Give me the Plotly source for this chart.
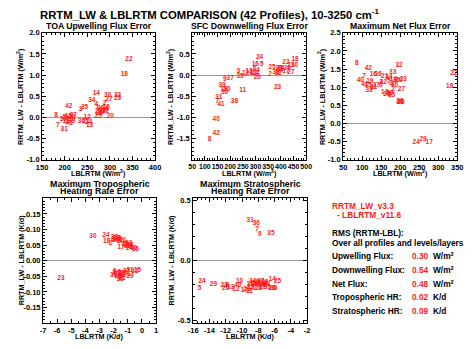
import plotly.graph_objects as go

W, H = 474, 349
FONT = "Liberation Sans, Arial, sans-serif"
RED = "#ff1a1a"

# ---------------- data ----------------
toa_lab = [22, 18, 14, 30, 33, 23, 27, 34, 42, 35, 3, 8, 20, 25, 37, 40, 12, 36, 24, 13, 41, 7, 31,
           4, 2, 26, 1, 16, 28, 19, 32, 29, 6, 5, 9, 10, 11, 38, 39, 15, 17, 21]
toa_x = [342, 332, 270, 295, 317, 317, 298, 260, 209, 244, 235, 181, 301, 274, 219, 217, 250, 237, 253, 255, 210, 185, 199,
         270, 288, 280, 272, 292, 275, 283, 290, 277, 294, 200, 205, 212, 203, 197, 215, 208, 282, 247]
toa_y = [1.36, 1.01, 0.56, 0.53, 0.51, 0.44, 0.43, 0.40, 0.26, 0.24, 0.18, 0.06, 0.02, 0.02, 0.05, 0.0, 0.0, -0.10, -0.12, -0.19, -0.15, -0.18, -0.28,
         0.31, 0.33, 0.21, 0.24, 0.25, 0.15, 0.17, 0.14, 0.09, 0.20, 0.0, -0.02, -0.05, -0.08, -0.04, -0.08, 0.02, 0.12, -0.08]

sfc_lab = [24, 18, 16, 5, 22, 30, 25, 28, 3, 6, 4, 13, 12, 1, 14, 35, 20, 2, 32, 27, 17, 9, 37, 23, 39, 19, 10,
           36, 11, 31, 7, 41, 38, 40, 42, 8, 26, 29, 21, 15, 34, 33]
sfc_x = [316, 456, 299, 325, 420, 454, 365, 393, 232, 297, 310, 275, 261, 285, 300, 239, 307, 357, 389, 440, 420, 179, 200, 387, 168, 175, 188,
         178, 249, 155, 149, 164, 217, 145, 145, 119, 400, 425, 440, 290, 395, 380]
sfc_y = [0.41, 0.36, 0.26, 0.26, 0.30, 0.24, 0.19, 0.16, 0.09, 0.15, 0.10, 0.08, 0.03, 0.05, 0.03, -0.03, -0.06, 0.02, 0.04, 0.07, 0.08, -0.09, -0.07, -0.28, -0.24, -0.33, -0.33,
         -0.40, -0.36, -0.53, -0.61, -0.70, -0.61, -1.04, -1.38, -1.51, 0.15, 0.17, 0.22, 0.06, 0.10, 0.06]

net_lab = [8, 42, 32, 33, 22, 16, 36, 21, 34, 14, 28, 38, 23, 7, 40, 19, 41, 15, 37, 6, 12, 4, 18, 2, 27, 31, 9,
           13, 1, 35, 24, 29, 17, 10, 20, 5, 3, 11, 25, 30, 39, 26]
net_x = [86, 116, 197, 180, 341, 129, 142, 159, 170, 182, 200, 201, 208, 105, 95, 120, 107, 115, 137, 149, 155, 177, 330, 182, 203, 118, 125,
         159, 168, 177, 242, 260, 276, 190, 196, 170, 150, 130, 165, 185, 172, 199]
net_y = [1.65, 1.53, 1.59, 1.40, 1.39, 1.35, 1.35, 1.30, 1.27, 1.22, 0.59, 0.58, 1.22, 1.29, 1.18, 1.15, 1.07, 1.05, 1.05, 1.05, 1.12, 1.07, 1.03, 0.95, 0.94, 0.91, 0.98,
         0.85, 0.84, 0.77, -0.52, -0.43, -0.52, 1.20, 1.20, 1.15, 1.12, 1.00, 0.80, 1.05, 0.83, 0.60]

trop_lab = [24, 18, 21, 2, 28, 19, 22, 26, 3, 8, 20, 17, 36, 34, 33, 16, 12, 5, 40, 13, 14, 30,
            23, 31, 15, 6, 9, 41, 42, 11, 1, 29, 4, 7, 10, 25, 27, 32, 35, 37, 38, 39]
trop_x = [-2.55, -2.5, -1.34, -2.2, -1.95, -1.8, -1.7, -1.85, -1.6, -2.05, -1.5, -1.48, -0.47, -1.1, -0.95, -0.85, -1.0, -0.75, -0.6, -1.2, -0.9, -3.47,
          -5.73, -0.86, -0.31, -1.92, -1.6, -1.81, -1.35, -1.4, -0.93, -0.84, -1.6, -1.95, -1.7, -1.25, -1.1, -0.5, -1.55, -1.75, -1.45, -2.0]
trop_y = [0.081, 0.0625, 0.066, 0.056, 0.075, 0.072, 0.068, 0.064, 0.07, 0.068, 0.062, 0.044, 0.035, 0.05, 0.055, 0.048, 0.045, 0.042, 0.04, 0.052, 0.038, 0.079,
          -0.058, -0.030, -0.030, -0.035, -0.037, -0.045, -0.048, -0.056, -0.045, -0.049, -0.056, -0.042, -0.05, -0.04, -0.035, -0.035, -0.06, -0.04, -0.042, -0.048]

strat_lab = [31, 36, 7, 9, 35, 24, 5, 29, 12, 10, 14, 25, 20, 23, 8, 13, 40, 17, 11, 21,
             1, 2, 3, 4, 6, 15, 16, 18, 19, 22, 26, 27, 28, 30, 32, 33, 34, 37, 38, 39, 41, 42]
strat_x = [-9.0, -8.24, -8.16, -7.8, -6.45, -14.9, -15.2, -13.5, -10.75, -10.3, -6.3, -5.65, -12.0, -12.2, -11.8, -11.4, -10.5, -9.7, -9.1, -9.4,
           -8.8, -8.5, -8.2, -8.0, -7.8, -7.6, -7.3, -7.0, -8.9, -8.6, -6.3, -7.5, -7.9, -8.3, -7.2, -6.9, -8.7, -7.7, -6.1, -9.0, -8.1, -7.4]
strat_y = [0.333, 0.31, 0.26, 0.22, 0.23, -0.17, -0.23, -0.20, -0.236, -0.17, -0.153, -0.175, -0.235, -0.205, -0.21, -0.22, -0.21, -0.25, -0.255, -0.24,
           -0.19, -0.20, -0.18, -0.21, -0.18, -0.20, -0.19, -0.20, -0.22, -0.23, -0.23, -0.22, -0.23, -0.19, -0.18, -0.22, -0.17, -0.17, -0.23, -0.20, -0.20, -0.21]

rms_names = ["Upwelling Flux:", "Downwelling Flux:", "Net Flux:", "Tropospheric HR:", "Stratospheric HR:"]
rms_vals = ["0.30", "0.54", "0.48", "0.02", "0.09"]
rms_units = ["W/m<sup>2</sup>", "W/m<sup>2</sup>", "W/m<sup>2</sup>", "K/d", "K/d"]

# ---------------- layout helpers ----------------
def fx(px):
    return px / W

def fy(py):
    return (H - py) / H

panels = [
    dict(x=(37, 153), y=(29.5, 160), xr=[150, 400], yr=[-1, 2], xt=list(range(150, 401, 50)),
         yt=[-1.0, -0.5, 0.0, 0.5, 1.0, 1.5, 2.0], yf="{:.1f}", xm=10, ym=0.1, xfs=7.5,
         data=(toa_x, toa_y, toa_lab), title=["TOA Upwelling Flux Error"], xt_title="LBLRTM (W/m<sup>2</sup>)",
         yt_title="RRTM_LW - LBLRTM (W/m<sup>2</sup>)"),
    dict(x=(191, 308), y=(29.5, 160), xr=[50, 500], yr=[-2, 1], xt=list(range(50, 501, 50)),
         yt=[-1.5, -1.0, -0.5, 0.0, 0.5], yf="{:.1f}", xm=10, ym=0.1, xfs=7.0,
         data=(sfc_x, sfc_y, sfc_lab), title=["SFC Downwelling Flux Error"], xt_title="LBLRTM (W/m<sup>2</sup>)",
         yt_title="RRTM_LW - LBLRTM (W/m<sup>2</sup>)"),
    dict(x=(346, 463), y=(29.5, 160), xr=[50, 350], yr=[-1, 2.5], xt=list(range(50, 351, 50)),
         yt=[-1.0, -0.5, 0.0, 0.5, 1.0, 1.5, 2.0, 2.5], yf="{:.1f}", xm=10, ym=0.1, xfs=7.5,
         data=(net_x, net_y, net_lab), title=["Maximum Net Flux Error"], xt_title="LBLRTM (W/m<sup>2</sup>)",
         yt_title="RRTM_LW - LBLRTM (W/m<sup>2</sup>)"),
    dict(x=(38, 154), y=(199.5, 327.5), xr=[-7, 1], yr=[-0.2, 0.2], xt=list(range(-7, 2)),
         yt=[-0.15, -0.10, -0.05, 0.0, 0.05, 0.10, 0.15], yf="{:.2f}", xm=0.5, ym=0.01, xfs=7.5,
         data=(trop_x, trop_y, trop_lab), title=["Maximum Tropospheric", "Heating Rate Error"],
         xt_title="LBLRTM (K/d)", yt_title="RRTM_LW - LBLRTM (K/d)"),
    dict(x=(192, 309), y=(199.5, 327.5), xr=[-16, -2], yr=[-0.52, 0.52], xt=list(range(-16, -1, 2)),
         yt=[-0.5, 0.0, 0.5], yf="{:.1f}", xm=0.5, ym=0.1, xfs=7.5,
         data=(strat_x, strat_y, strat_lab), title=["Maximum Stratospheric", "Heating Rate Error"],
         xt_title="LBLRTM (K/d)", yt_title="RRTM_LW - LBLRTM (K/d)"),
]

fig = go.Figure()
annotations = []
layout = {}
afont = dict(family=FONT, size=7.2, color="black", weight=700)

for i, p in enumerate(panels, start=1):
    xa = "xaxis" if i == 1 else f"xaxis{i}"
    ya = "yaxis" if i == 1 else f"yaxis{i}"
    xs, ys, labs = p["data"]
    fig.add_trace(go.Scatter(
        x=xs, y=ys, text=[str(v) for v in labs], mode="text",
        textposition="middle center",
        textfont=dict(family=FONT, size=6.5, color=RED, weight=700),
        xaxis="x" if i == 1 else f"x{i}", yaxis="y" if i == 1 else f"y{i}",
        hoverinfo="skip", showlegend=False, cliponaxis=False))
    common = dict(showline=True, linecolor="black", linewidth=1, mirror="allticks",
                  ticks="inside", ticklen=4, tickwidth=1, tickcolor="black",
                  showgrid=False, tickangle=0)
    layout[xa] = dict(common, domain=[fx(p["x"][0]), fx(p["x"][1])], range=p["xr"],
                      tickvals=p["xt"], ticktext=[str(v) for v in p["xt"]],
                      tickfont=dict(family=FONT, size=p["xfs"], color="black", weight=700),
                      zeroline=False, anchor="y" if i == 1 else f"y{i}",
                      minor=dict(ticks="inside", ticklen=2, dtick=p["xm"], tickcolor="black", showgrid=False))
    layout[ya] = dict(common, domain=[fy(p["y"][1]), fy(p["y"][0])], range=p["yr"],
                      tickvals=p["yt"], ticktext=[p["yf"].format(v) for v in p["yt"]],
                      tickfont=dict(family=FONT, size=7.5, color="black", weight=700),
                      zeroline=True, zerolinecolor="#999999", zerolinewidth=1,
                      anchor="x" if i == 1 else f"x{i}",
                      minor=dict(ticks="inside", ticklen=2, dtick=p["ym"], tickcolor="black", showgrid=False))
    cx = (p["x"][0] + p["x"][1]) / 2
    cy = (p["y"][0] + p["y"][1]) / 2
    if len(p["title"]) == 1:
        annotations.append(dict(text=p["title"][0], x=fx(cx), y=fy(22.5), xref="paper", yref="paper",
                                xanchor="center", yanchor="middle", showarrow=False,
                                font=dict(family=FONT, size=8.7, color="black", weight=700)))
    else:
        for line, yy in zip(p["title"], [185, 192]):
            annotations.append(dict(text=line, x=fx(cx), y=fy(yy), xref="paper", yref="paper",
                                    xanchor="center", yanchor="middle", showarrow=False,
                                    font=dict(family=FONT, size=8.9, color="black", weight=700)))
    annotations.append(dict(text=p["xt_title"], x=fx(cx), y=fy(p["y"][1] + 13.5), xref="paper", yref="paper",
                            xanchor="center", yanchor="middle", showarrow=False, font=afont))
    annotations.append(dict(text=p["yt_title"], x=fx(p["x"][0] - 22), y=fy(cy), xref="paper", yref="paper",
                            xanchor="center", yanchor="middle", showarrow=False, textangle=-90, font=afont))

annotations.append(dict(text="RRTM_LW & LBLRTM COMPARISON (42 Profiles), 10-3250 cm<sup>-1</sup>",
                        x=fx(209), y=fy(10), xref="paper", yref="paper", xanchor="center", yanchor="middle",
                        showarrow=False, font=dict(family=FONT, size=11.3, color="black", weight=700)))

tf = dict(family=FONT, size=8.3, color="black", weight=700)
rf = dict(family=FONT, size=8.3, color=RED, weight=700)
annotations.append(dict(text="RRTM_LW_v3.3", x=fx(332), y=fy(207), xref="paper", yref="paper",
                        xanchor="left", yanchor="middle", showarrow=False, font=rf))
annotations.append(dict(text="- LBLRTM_v11.6", x=fx(338), y=fy(217), xref="paper", yref="paper",
                        xanchor="left", yanchor="middle", showarrow=False, font=rf))
annotations.append(dict(text="RMS (RRTM-LBL):", x=fx(332), y=fy(235), xref="paper", yref="paper",
                        xanchor="left", yanchor="middle", showarrow=False, font=tf))
annotations.append(dict(text="Over all profiles and levels/layers", x=fx(332), y=fy(245), xref="paper", yref="paper",
                        xanchor="left", yanchor="middle", showarrow=False, font=tf))
for k, (nm, v, u) in enumerate(zip(rms_names, rms_vals, rms_units)):
    yy = 259 + 14 * k
    annotations.append(dict(text=nm, x=fx(332), y=fy(yy), xref="paper", yref="paper",
                            xanchor="left", yanchor="middle", showarrow=False, font=tf))
    annotations.append(dict(text=v, x=fx(414), y=fy(yy), xref="paper", yref="paper",
                            xanchor="left", yanchor="middle", showarrow=False, font=rf))
    annotations.append(dict(text=u, x=fx(436), y=fy(yy), xref="paper", yref="paper",
                            xanchor="left", yanchor="middle", showarrow=False, font=tf))

fig.update_layout(width=W, height=H, margin=dict(l=0, r=0, t=0, b=0),
                  paper_bgcolor="white", plot_bgcolor="white", showlegend=False,
                  annotations=annotations, **layout)

fig.write_html("out.html")
